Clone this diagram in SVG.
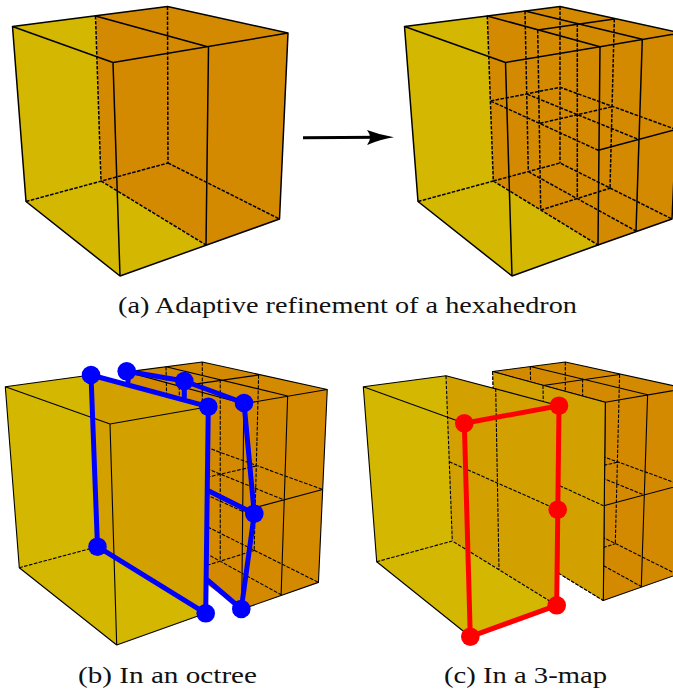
<svg xmlns="http://www.w3.org/2000/svg" width="673" height="690" viewBox="0 0 673 690">
<style>
.y{fill:#d3b700;stroke:none}
.o{fill:#d48a00;stroke:none}
.w{fill:#d2a100;stroke:none}
.s{fill:none;stroke:#000;stroke-linejoin:round;stroke-linecap:round}
.d{fill:none;stroke:#000;stroke-dasharray:3.6 1.4}
.a{stroke-width:1.5}
.t{stroke-width:1.1}
.b{fill:none;stroke:#0000ff;stroke-width:5;stroke-linecap:round;stroke-linejoin:round}
.r{fill:none;stroke:#ff0000;stroke-width:5;stroke-linecap:round;stroke-linejoin:round}
.nb{fill:#0000ff}
.nr{fill:#ff0000}
text{font-family:"Liberation Serif","Times New Roman",serif;font-size:23.5px;fill:#111}
</style>
<defs>
<g id="block">
<polygon class="o" points="487.3,16 560,6.5 680.5,33 672,219 598,245 493.3,181"/>
<path class="d" d="M487.3 16L493.3 181M525 11L528.3 171.7M537.7 30L540.7 210M560 6.5L560 163M577.3 23.3L577.3 199M614.3 19L610 188.3M490.7 101L560 87.3L676 129.5M490.7 101L598.3 150.3M527.3 94.3L638.3 139.3M540 123.3L612.3 106.7M493.3 181L560 163L672 219M493.3 181L598 245M528.3 171.7L636 231M540.7 210L610 188.3"/>
<path class="s" d="M487.3 16L560 6.5L680.5 33L672 219L598 245M487.3 16L600 46.7M525 11L642.3 39.3M537.7 30L614.3 19M600 46.7L680.5 33M600 46.7L598 245M642.3 39.3L636 231M598.3 150.3L676 129.5"/>
</g>
</defs>

<g id="panel-a-source">
<polygon class="y" points="12.5,26.5 95.5,16 101,181 206,245 120,276 26,201.5"/>
<polygon class="o" points="95.5,16 167.5,6.5 288,33 279.5,219 206,245 101,181"/>
<path class="d a" d="M95.5 16L101 181M167.5 6.5L168 163M26 201.5L168 163M101 181L206 245M168 163L279.5 219"/>
<path class="s a" d="M12.5 26.5L167.5 6.5L288 33L279.5 219L120 276L26 201.5ZM12.5 26.5L113 62.5L288 33M113 62.5L120 276M95.5 16L208.5 47L206 245"/>
</g>

<g id="refinement-arrow">
<path d="M303 137.8L380 137.2" fill="none" stroke="#000" stroke-width="3"/>
<path d="M367 130Q380 135 394 137.3Q380 139.5 367 145Q373 137.5 367 130Z" fill="#000"/>
</g>

<g id="panel-a-refined">
<polygon class="y" points="404.5,26.5 487.3,16 493.3,181 598,245 512,276 418,201.5"/>
<use href="#block" stroke-width="1.5"/>
<path class="d a" d="M418 201.5L493.3 181"/>
<path class="s a" d="M487.3 16L404.5 26.5L418 201.5L512 276L598 245M404.5 26.5L505.5 62.5L600 46.7M505.5 62.5L512 276"/>
</g>

<g id="panel-b">
<g id="octree-block" transform="translate(202.3 362) scale(1.037) translate(-560 -6.5)">
<use href="#block" stroke-width="1.05"/>
</g>
<polygon points="198,578 241.7,609.8 205,628" fill="#fff"/>
<g id="octree-front">
<polygon class="y" points="5.3,386.7 91,375 97.5,546.7 205.7,613.3 116.7,645 19.3,567.7"/>
<polygon class="w" points="91,375 208.3,406.7 205.7,613.3 97.5,546.7"/>
<path class="d t" d="M19.3 567.7L97.5 546.7M91 375L97.5 546.7"/>
<path class="s t" d="M91 375L5.3 386.7L19.3 567.7L116.7 645L205.7 613.3M5.3 386.7L110 424L208.3 406.7M110 424L116.7 645"/>
</g>
<g id="octree-connectors">
<path class="b" d="M91 375L208.3 406.7L205.7 613.3L97.5 546.7ZM126.7 371.3L184.3 381L244 403L254.3 513.7L241.3 609L207.3 580M184.3 381L184.3 400M128 373L128 383M254.3 513.7L208.3 490.7"/>
</g>
<g id="octree-nodes">
<circle id="b1" class="nb" cx="91" cy="375" r="9.3"/>
<circle id="b2" class="nb" cx="126.7" cy="371.3" r="9.3"/>
<circle id="b3" class="nb" cx="184.3" cy="381" r="9.3"/>
<circle id="b4" class="nb" cx="208.3" cy="406.7" r="9.3"/>
<circle id="b5" class="nb" cx="244" cy="403" r="9.3"/>
<circle id="b6" class="nb" cx="254.3" cy="513.7" r="9.3"/>
<circle id="b7" class="nb" cx="97.5" cy="546.7" r="9.3"/>
<circle id="b8" class="nb" cx="205.7" cy="613.3" r="9.3"/>
<circle id="b9" class="nb" cx="241.3" cy="609" r="9.3"/>
</g>
</g>

<g id="panel-c">
<g id="map-block" transform="translate(5.3 355.5)">
<use href="#block" stroke-width="1.1"/>
<polygon class="w" points="487.3,16 600,46.7 598,245 493.3,181"/>
<path class="d t" d="M487.3 16L493.3 181M537.7 30L540.7 210M490.7 101L598.3 150.3M493.3 181L598 245"/>
<path class="s t" d="M487.3 16L600 46.7L598 245"/>
</g>
<g id="map-front">
<polygon class="y" points="363.3,386.7 446,375.7 452.3,541 556.7,605.3 470.3,636.7 376.7,561.7"/>
<polygon class="w" points="446,375.7 559,405.7 556.7,605.3 452.3,541"/>
<path class="d t" d="M446 375.7L452.3 541M495.7 388.3L499 570M449.3 461.7L557.7 509.7M376.7 561.7L452.3 541L556.7 605.3"/>
<path class="s t" d="M446 375.7L363.3 386.7L376.7 561.7L470.3 636.7M363.3 386.7L464.3 423.3M446 375.7L559 405.7"/>
</g>
<g id="map-connectors">
<path class="r" d="M464.3 423.3L559 405.7L556.7 605.3L470.3 636.7Z"/>
</g>
<g id="map-nodes">
<circle id="r1" class="nr" cx="464.3" cy="423.3" r="9.3"/>
<circle id="r2" class="nr" cx="559" cy="405.7" r="9.3"/>
<circle id="r3" class="nr" cx="557.7" cy="509.7" r="9.3"/>
<circle id="r4" class="nr" cx="556.7" cy="605.3" r="9.3"/>
<circle id="r5" class="nr" cx="470.3" cy="636.7" r="9.3"/>
</g>
</g>

<g id="captions">
<text x="118" y="313" textLength="459" lengthAdjust="spacingAndGlyphs">(a) Adaptive refinement of a hexahedron</text>
<text x="78" y="683" textLength="179" lengthAdjust="spacingAndGlyphs">(b) In an octree</text>
<text x="444" y="683" textLength="163" lengthAdjust="spacingAndGlyphs">(c) In a 3-map</text>
</g>
</svg>
